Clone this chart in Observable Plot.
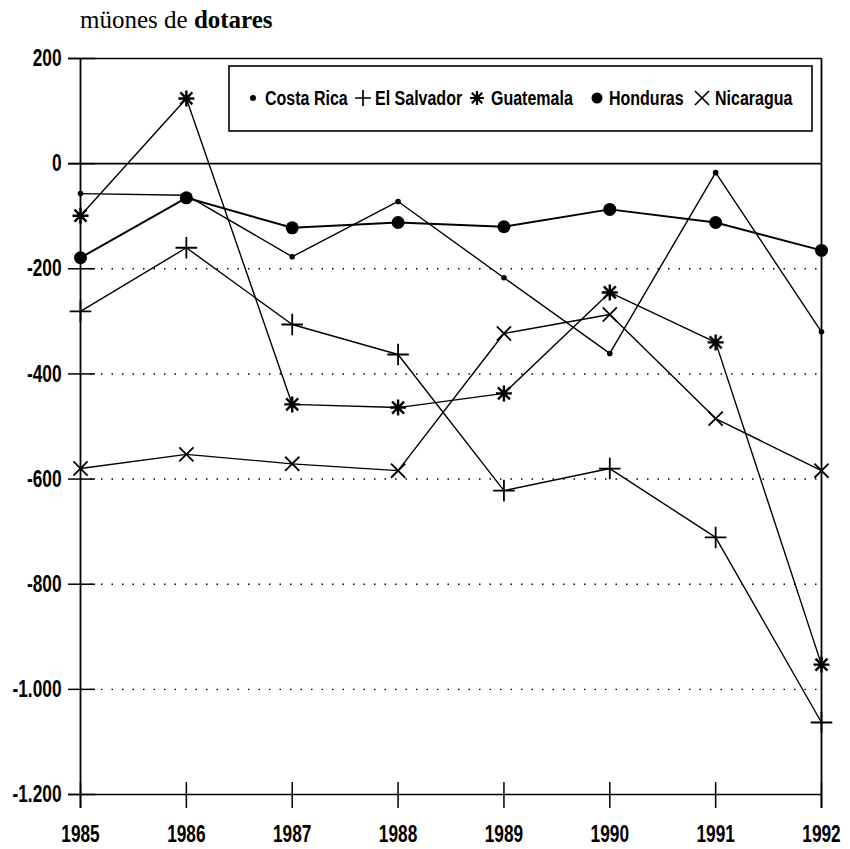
<!DOCTYPE html>
<html><head><meta charset="utf-8">
<script src="https://cdn.jsdelivr.net/npm/d3@7"></script>
<script src="https://cdn.jsdelivr.net/npm/@observablehq/plot@0.6"></script>
<style>
body{margin:0;background:#fff;}
#wrap{position:relative;width:850px;height:849px;background:#fff;}
#title{height:40px;box-sizing:border-box;padding-left:80px;padding-top:7px;font-family:"Liberation Serif","Times New Roman",serif;font-size:25px;line-height:1;color:#000;}
#legend{position:absolute;left:228px;top:65px;}
</style></head><body>
<div id="wrap"><div id="title">müones de <b>dotares</b></div><div id="chart"></div><svg id="legend"></svg></div>
<script>
const years = [1985, 1986, 1987, 1988, 1989, 1990, 1991, 1992];
const costaRica  = [-57, -60, -177, -72, -217, -361, -17, -320];
const elSalvador = [-281, -160, -306, -363, -622, -580, -711, -1063];
const guatemala  = [-99, 124, -458, -464, -437, -245, -340, -953];
const honduras   = [-179, -65, -122, -112, -120, -87, -112, -165];
const nicaragua  = [-580, -553, -571, -584, -323, -287, -485, -584];
const seriesNames = ["Costa Rica", "El Salvador", "Guatemala", "Honduras", "Nicaragua"];
const yTicks = [200, 0, -200, -400, -600, -800, -1000, -1200];
const gridValues = [-200, -400, -600, -800, -1000];

const FONT = '"Liberation Sans",Arial,sans-serif';
const toRows = (name, vals) => years.map((y, i) => ({country: name, year: y, value: vals[i]}));
const crRows = toRows(seriesNames[0], costaRica);
const esRows = toRows(seriesNames[1], elSalvador);
const guRows = toRows(seriesNames[2], guatemala);
const hoRows = toRows(seriesNames[3], honduras);
const niRows = toRows(seriesNames[4], nicaragua);

// eight-armed asterisk like the original's Guatemala marker
const star8 = {
  draw(context, size) {
    const r = Math.sqrt(size / Math.PI);
    const d = r * 0.75;
    context.moveTo(-r, 0); context.lineTo(r, 0);
    context.moveTo(0, -r); context.lineTo(0, r);
    context.moveTo(-d, -d); context.lineTo(d, d);
    context.moveTo(-d, d); context.lineTo(d, -d);
  }
};

const fmt = d3.formatLocale({decimal: ",", thousands: ".", grouping: [3], currency: ["", ""], minus: "-"}).format(",");

const lineOpts = {x: "year", y: "value", stroke: "#000", strokeWidth: 1.4};
const chart = Plot.plot({
  width: 850, height: 809,
  marginTop: 18, marginBottom: 55, marginLeft: 80, marginRight: 29,
  x: {domain: [1985, 1992]},
  y: {domain: [-1200, 200]},
  style: {fontFamily: FONT, fontWeight: "bold", fontSize: "24px", color: "#000", background: "#fff", overflow: "visible"},
  marks: [
    Plot.ruleY(gridValues, {x1: 1985, x2: 1992, stroke: "#000", strokeWidth: 1.4, strokeDasharray: "1.5,9"}),
    Plot.ruleY([0], {x1: 1985, x2: 1992, insetLeft: -12, stroke: "#000", strokeWidth: 1.6}),
    Plot.ruleY([200], {x1: 1985, x2: 1992, insetLeft: -12, stroke: "#000", strokeWidth: 1.6}),
    Plot.ruleY([-1200], {x1: 1985, x2: 1992, insetLeft: -12, stroke: "#000", strokeWidth: 1.6}),
    Plot.ruleX([1985, 1992], {y1: 200, y2: -1200, insetBottom: -14, stroke: "#000", strokeWidth: 1.8}),
    Plot.ruleY(yTicks, {x1: 1985, x2: 1985, insetLeft: -12, insetRight: -15, stroke: "#000", strokeWidth: 1.5}),
    Plot.ruleX(years, {y1: -1200, y2: -1200, insetTop: -12, insetBottom: -14, stroke: "#000", strokeWidth: 1.5}),
    Plot.axisY({ticks: yTicks, tickSize: 0, tickPadding: 19, tickFormat: fmt, fontWeight: "bold", label: null}),
    Plot.axisX({ticks: years, tickSize: 0, tickPadding: 30, tickFormat: d => String(d), fontWeight: "bold", label: null}),
    Plot.line(crRows, lineOpts),
    Plot.line(esRows, lineOpts),
    Plot.line(guRows, lineOpts),
    Plot.line(hoRows, {...lineOpts, strokeWidth: 2}),
    Plot.line(niRows, lineOpts),
    Plot.dot(crRows, {x: "year", y: "value", r: 2.8, fill: "#000"}),
    Plot.dot(esRows, {x: "year", y: "value", symbol: "plus", r: 7, stroke: "#000", strokeWidth: 1.8}),
    Plot.dot(guRows, {x: "year", y: "value", symbol: star8, r: 8, stroke: "#000", strokeWidth: 2.4}),
    Plot.dot(hoRows, {x: "year", y: "value", r: 6.5, fill: "#000"}),
    Plot.dot(niRows, {x: "year", y: "value", symbol: "times", r: 6.5, stroke: "#000", strokeWidth: 1.8})
  ]
});
// condense the tick labels horizontally (narrow bold face of the original)
chart.querySelectorAll("text").forEach(t => {
  const tr = t.getAttribute("transform") || "";
  t.setAttribute("transform", tr + " scale(0.72,1)");
});
document.getElementById("chart").appendChild(chart);

// legend box inside the plot frame
const legendSymbols = [
  {sym: d3.symbolCircle, size: 28, fill: true, sx: 25, tx: 37},
  {sym: d3.symbolPlus, size: 84, fill: false, sx: 135, tx: 147},
  {sym: star8, size: 150, fill: false, sx: 249, tx: 263},
  {sym: d3.symbolCircle, size: 95, fill: true, sx: 369, tx: 381},
  {sym: d3.symbolTimes, size: 130, fill: false, sx: 474, tx: 487}
];
const leg = d3.select("#legend").attr("width", 586).attr("height", 68);
leg.append("rect").attr("x", 1).attr("y", 1).attr("width", 583).attr("height", 65)
  .attr("fill", "#fff").attr("stroke", "#000").attr("stroke-width", 1.6);
seriesNames.forEach((name, i) => {
  const s = legendSymbols[i];
  leg.append("path")
    .attr("transform", `translate(${s.sx},33)`)
    .attr("d", d3.symbol(s.sym, s.size)())
    .attr("fill", s.fill ? "#000" : "none")
    .attr("stroke", "#000").attr("stroke-width", s.fill ? 0 : (i === 2 ? 2.2 : 1.7));
  leg.append("text").attr("transform", `translate(${s.tx},33) scale(0.8,1)`).attr("dy", "0.35em")
    .attr("font-family", FONT).attr("font-weight", "bold").attr("font-size", "20px")
    .text(name);
});
</script>
</body></html>
